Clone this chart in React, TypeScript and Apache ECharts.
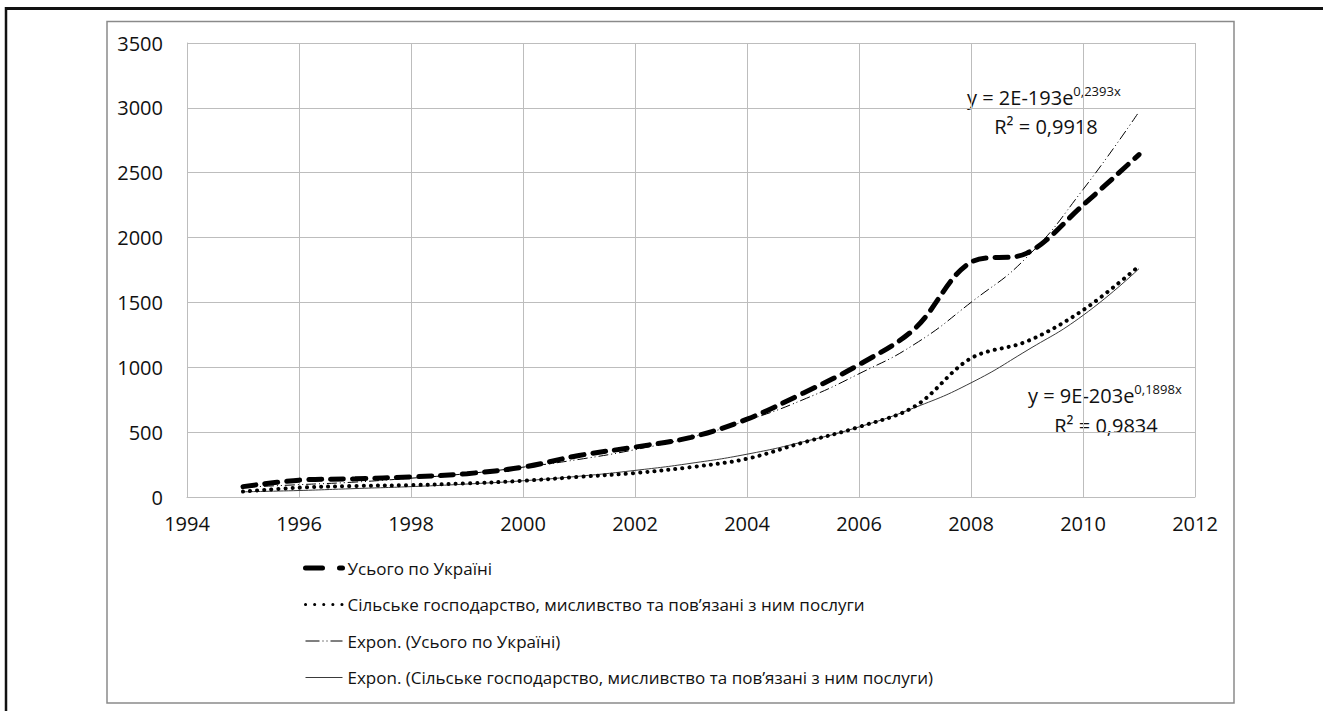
import React, { useEffect, useRef } from "react";
import * as echarts from "echarts";

const years = [1995, 1996, 1997, 1998, 1999, 2000, 2001, 2002, 2003, 2004, 2005, 2006, 2007, 2008, 2009, 2010, 2011];
const totalUkraine = [80, 130, 140, 155, 180, 230, 320, 385, 460, 600, 800, 1020, 1300, 1810, 1880, 2250, 2640];
const agriculture = [42, 72, 85, 92, 105, 125, 155, 185, 230, 295, 420, 540, 700, 1070, 1200, 1440, 1780];
const trendTotal = [75, 95, 115, 145, 180, 230, 290, 365, 460, 590, 750, 950, 1180, 1500, 1850, 2370, 2970];
const trendAgri = [40, 50, 65, 80, 100, 125, 160, 205, 260, 330, 425, 540, 690, 880, 1130, 1400, 1760];

const seriesNames = [
  "Усього по Україні",
  "Сільське господарство, мисливство та пов’язані з ним послуги",
  "Expon. (Усього по Україні)",
  "Expon. (Сільське господарство, мисливство та пов’язані з ним послуги)",
];
const eqTotal = ["y = 2E-193e", "0,2393x", "R² = 0,9918"];
const eqAgri = ["y = 9E-203e", "0,1898x", "R² = 0,9834"];

const FONT = "'Open Sans', 'Noto Sans', sans-serif";

const pairs = (ys: number[]) => years.map((x, i) => [x, ys[i]]);

export default function App() {
  const ref = useRef<HTMLDivElement>(null);
  useEffect(() => {
    if (!ref.current) return;
    const chart = echarts.init(ref.current, undefined, { renderer: "svg" });
    const dashMain: any = { color: "#000", width: 5, type: [13, 9], cap: "round" };
    const dotAgri: any = { color: "#000", width: 4, type: [0.1, 7], cap: "round" };
    const dashTrend: any = { color: "#000", width: 1, type: [10, 3, 1, 3, 1, 3] };
    const solidTrend: any = { color: "#3a3a3a", width: 1, type: "solid" };
    const hiddenSym = { opacity: 0 };
    chart.setOption({
      animation: false,
      backgroundColor: "#fff",
      color: ["#000", "#000", "#000", "#3a3a3a"],
      textStyle: { fontFamily: FONT },
      grid: { left: 187, right: 128, top: 43, bottom: 214, containLabel: false },
      xAxis: {
        type: "value",
        min: 1994,
        max: 2012,
        interval: 2,
        axisLine: { show: true, lineStyle: { color: "#bdbdbd", width: 1 } },
        axisTick: { show: false },
        splitLine: { show: true, lineStyle: { color: "#bdbdbd", width: 1 } },
        axisLabel: { color: "#111", fontSize: 20, fontFamily: FONT, margin: 16, formatter: (v: number) => String(v) },
      },
      yAxis: {
        type: "value",
        min: 0,
        max: 3500,
        interval: 500,
        axisLine: { show: true, lineStyle: { color: "#bdbdbd", width: 1 } },
        axisTick: { show: false },
        splitLine: { show: true, lineStyle: { color: "#bdbdbd", width: 1 } },
        axisLabel: { color: "#111", fontSize: 20, fontFamily: FONT, margin: 24, formatter: (v: number) => String(v) },
      },
      legend: {
        orient: "vertical",
        left: 298,
        top: 553,
        itemWidth: 37,
        itemHeight: 20,
        itemGap: 16.5,
        itemStyle: hiddenSym,
        textStyle: { fontSize: 17, color: "#111", fontFamily: FONT, lineHeight: 20 },
        data: [
          { name: seriesNames[0], itemStyle: hiddenSym, lineStyle: { ...dashMain, type: [17, 17] } },
          { name: seriesNames[1], itemStyle: hiddenSym, lineStyle: { ...dotAgri, width: 3, type: [0.1, 9] } },
          { name: seriesNames[2], itemStyle: hiddenSym, lineStyle: { ...dashTrend, type: [14, 3, 1, 3, 1, 3] } },
          { name: seriesNames[3], itemStyle: hiddenSym, lineStyle: { ...solidTrend } },
        ],
      },
      series: [
        {
          name: seriesNames[0],
          type: "line",
          data: pairs(totalUkraine),
          smooth: 0.35,
          symbol: "none",
          itemStyle: { color: "#000" },
          lineStyle: dashMain,
          z: 5,
        },
        {
          name: seriesNames[1],
          type: "line",
          data: pairs(agriculture),
          smooth: 0.35,
          symbol: "none",
          itemStyle: { color: "#000" },
          lineStyle: dotAgri,
          z: 5,
        },
        {
          name: seriesNames[2],
          type: "line",
          data: pairs(trendTotal),
          smooth: 0.5,
          symbol: "none",
          itemStyle: { color: "#000" },
          lineStyle: dashTrend,
          z: 4,
        },
        {
          name: seriesNames[3],
          type: "line",
          data: pairs(trendAgri),
          smooth: 0.5,
          symbol: "none",
          itemStyle: { color: "#3a3a3a" },
          lineStyle: solidTrend,
          z: 4,
        },
      ],
      graphic: [
        {
          type: "rect",
          silent: true,
          z: -10,
          shape: { x: 107, y: 21.5, width: 1127, height: 681.5 },
          style: { fill: "none", stroke: "#8a8a8a", lineWidth: 1.5 },
        },
        {
          type: "line",
          silent: true,
          shape: { x1: 6, y1: 8.5, x2: 1323, y2: 8.5 },
          style: { stroke: "#111", lineWidth: 3 },
        },
        {
          type: "line",
          silent: true,
          shape: { x1: 6, y1: 7, x2: 6, y2: 711 },
          style: { stroke: "#111", lineWidth: 2.5 },
        },
        {
          type: "text",
          left: 967,
          top: 84,
          style: {
            text: `{a|${eqTotal[0]}}{s|${eqTotal[1]}}`,
            rich: {
              a: { fontSize: 20, fontFamily: FONT, fill: "#111", lineHeight: 26 },
              s: { fontSize: 13, fontFamily: FONT, fill: "#111", lineHeight: 26, verticalAlign: "top", padding: [0, 0, 12, 0] },
            },
          },
        },
        {
          type: "text",
          x: 1046,
          y: 126,
          style: { text: eqTotal[2], fontSize: 20, fontFamily: FONT, fill: "#111", align: "center", verticalAlign: "middle" },
        },
        {
          type: "text",
          left: 1028,
          top: 382,
          style: {
            text: `{a|${eqAgri[0]}}{s|${eqAgri[1]}}`,
            rich: {
              a: { fontSize: 20, fontFamily: FONT, fill: "#111", lineHeight: 26 },
              s: { fontSize: 13, fontFamily: FONT, fill: "#111", lineHeight: 26, verticalAlign: "top", padding: [0, 0, 12, 0] },
            },
          },
        },
        {
          type: "text",
          x: 1106,
          y: 425,
          style: { text: eqAgri[2], fontSize: 20, fontFamily: FONT, fill: "#111", align: "center", verticalAlign: "middle" },
        },
      ],
    });
    return () => chart.dispose();
  }, []);
  return (
    <div
      ref={ref}
      style={{ position: "fixed", left: 0, top: 0, width: 1323, height: 711, background: "#fff" }}
    />
  );
}
